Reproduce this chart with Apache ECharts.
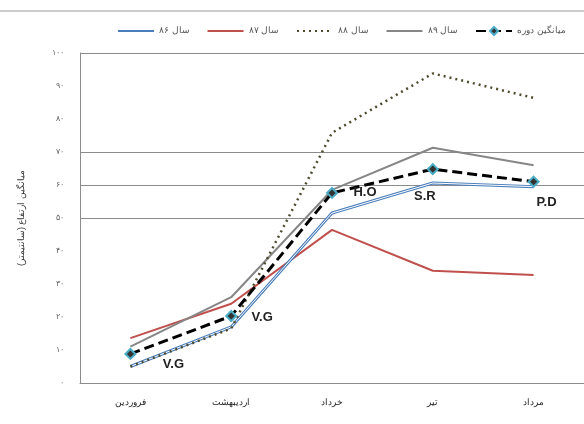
<!DOCTYPE html>
<html>
<head>
<meta charset="utf-8">
<script src="https://cdn.jsdelivr.net/npm/echarts@6/dist/echarts.min.js"></script>
<style>
  html, body { margin: 0; padding: 0; background: #fff; }
  #chart { width: 584px; height: 424px; }
</style>
</head>
<body>
<div id="chart"></div>
<script>
// داده‌ها
const months = ['فروردین', 'اردیبهشت', 'خرداد', 'تیر', 'مرداد'];
const seriesNames = ['سال ۸۶', 'سال ۸۷', 'سال ۸۸', 'سال ۸۹', 'میانگین دوره'];
const year86 = [5, 17, 51.5, 60.6, 59.5];
const year87 = [13.6, 24, 46.4, 34, 32.7];
const year88 = [5, 16.5, 75.8, 93.8, 86.4];
const year89 = [11, 26, 58.5, 71.3, 66];
const average = [8.8, 20.3, 57.6, 64.8, 61];
const pointLabels = ['V.G', 'V.G', 'H.O', 'S.R', 'P.D'];
const yTickLabels = ['۰', '۱۰', '۲۰', '۳۰', '۴۰', '۵۰', '۶۰', '۷۰', '۸۰', '۹۰', '۱۰۰'];

// جای برچسب هر نقطه نسبت به نقطه
const labelOffsets = [[43, 10], [31, 1], [33, 0], [-8, 27], [13, 21]];

const chart = echarts.init(document.getElementById('chart'));

// فقط چند خط شبکه در تصویر دیده می‌شود
const gridColors = ['transparent', 'transparent', 'transparent', 'transparent', 'transparent',
  '#8c8c8c', '#8c8c8c', '#8c8c8c', 'transparent', 'transparent', '#8c8c8c'];

const option = {
  backgroundColor: '#fff',
  animation: false,
  textStyle: { fontFamily: 'Arial, "Liberation Sans", "Noto Sans", sans-serif' },
  graphic: [
    { type: 'line', shape: { x1: 0, y1: 11, x2: 584, y2: 11 }, style: { stroke: '#999', lineWidth: 1 } }
  ],
  legend: {
    top: 21,
    left: 112,
    width: 700,
    itemWidth: 36,
    itemHeight: 10,
    itemGap: 17,
    data: seriesNames.map((n, i) => (i < 4 ? { name: n, itemStyle: { opacity: 0 } } : { name: n })),
    textStyle: { fontSize: 9, color: '#555' }
  },
  grid: { left: 80, right: -11, top: 53, bottom: 41 },
  xAxis: {
    type: 'category',
    data: months,
    axisLine: { lineStyle: { color: '#8c8c8c', width: 1 } },
    axisTick: { length: 5, lineStyle: { color: '#8c8c8c' } },
    axisLabel: { fontSize: 9, color: '#222', margin: 15 }
  },
  yAxis: {
    type: 'value',
    min: 0,
    max: 100,
    interval: 10,
    name: 'میانگین ارتفاع (سانتیمتر)',
    nameLocation: 'middle',
    nameGap: 54,
    nameRotate: 90,
    nameTextStyle: { fontSize: 9, color: '#333' },
    axisLine: { show: true, lineStyle: { color: '#8c8c8c' } },
    axisTick: { show: false },
    axisLabel: {
      fontSize: 8,
      color: '#666',
      margin: 16,
      formatter: (v) => yTickLabels[Math.round(v / 10)]
    },
    splitLine: { show: true, lineStyle: { color: gridColors, width: 1 } }
  },
  series: [
    {
      name: seriesNames[0],
      type: 'line',
      data: year86,
      symbol: 'none',
      lineStyle: { color: '#4a7ebb', width: 3 },
      itemStyle: { color: '#4a7ebb' },
      z: 3
    },
    {
      // خط سفید وسط برای نمایش خط دوتایی
      name: 'inner86',
      type: 'line',
      data: year86,
      symbol: 'none',
      lineStyle: { color: '#fff', width: 1 },
      silent: true,
      z: 4
    },
    {
      name: seriesNames[1],
      type: 'line',
      data: year87,
      symbol: 'none',
      lineStyle: { color: '#c0504d', width: 2 },
      itemStyle: { color: '#c0504d' },
      z: 2
    },
    {
      name: seriesNames[2],
      type: 'line',
      data: year88,
      symbol: 'none',
      lineStyle: { color: '#4f4b2f', width: 2.5, type: [2, 4] },
      itemStyle: { color: '#4f4b2f' },
      z: 5
    },
    {
      name: seriesNames[3],
      type: 'line',
      data: year89,
      symbol: 'none',
      lineStyle: { color: '#868686', width: 2 },
      itemStyle: { color: '#868686' },
      z: 2
    },
    {
      name: seriesNames[4],
      type: 'line',
      data: average.map((v, i) => ({
        value: v,
        label: {
          show: true,
          formatter: pointLabels[i],
          position: 'inside',
          offset: labelOffsets[i]
        }
      })),
      symbol: 'diamond',
      symbolSize: 10,
      lineStyle: { color: '#000', width: 3, type: [10, 5] },
      itemStyle: { color: '#333', borderColor: '#4bacc6', borderWidth: 2 },
      label: { fontSize: 13, fontWeight: 'bold', color: '#222' },
      z: 6
    }
  ]
};

chart.setOption(option);
window.addEventListener('resize', () => chart.resize());
</script>
</body>
</html>
